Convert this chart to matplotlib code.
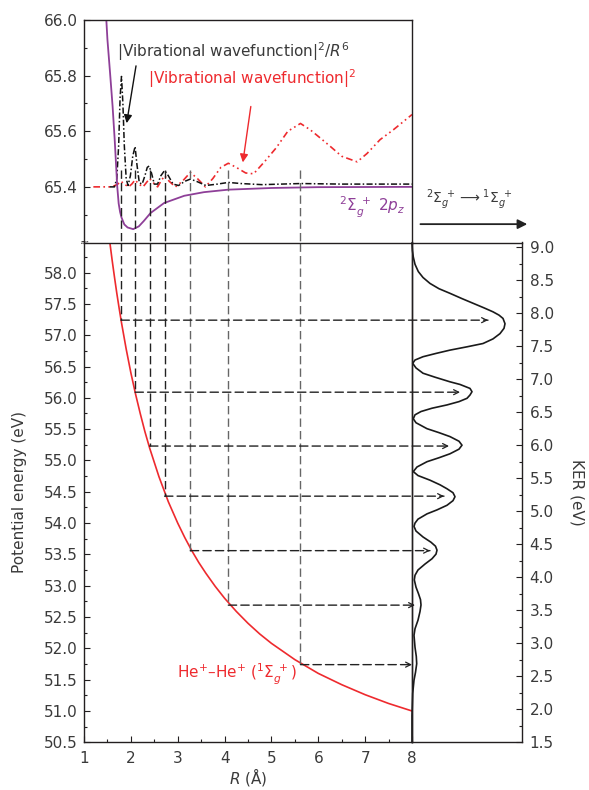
import matplotlib
matplotlib.use('Agg')
import matplotlib.pyplot as plt
import matplotlib.transforms as mtransforms
from matplotlib.ticker import MultipleLocator, FixedLocator, FormatStrFormatter

plt.rcParams['font.family'] = 'DejaVu Sans'
plt.rcParams['mathtext.fontset'] = 'dejavusans'

## data
# He+ - He+ Coulomb curve (bottom panel)
R_coul = [1.55, 1.6, 1.65, 1.7, 1.75, 1.8, 1.9, 2.0, 2.1, 2.2, 2.3, 2.4, 2.6, 2.8, 3.0, 3.15, 3.3, 3.45, 3.6, 3.8,
          4.0, 4.25, 4.5, 4.75, 5.0, 5.5, 6.0, 6.5, 7.0, 7.5, 8.0]
E_coul = [58.49, 58.20, 57.93, 57.67, 57.43, 57.20, 56.78, 56.40, 56.06, 55.75, 55.46, 55.20, 54.74, 54.34, 54.00,
          53.77, 53.56, 53.37, 53.20, 52.99, 52.80, 52.59, 52.40, 52.23, 52.08, 51.82, 51.60, 51.42, 51.26, 51.12,
          51.00]

# 2Sigma_g+ 2p_z potential (top panel)
R_pot = [1.45, 1.50, 1.556, 1.61, 1.655, 1.71, 1.74, 1.77, 1.80, 1.86, 1.93, 2.05, 2.17, 2.28, 2.42, 2.71, 3.14,
         3.56, 4.08, 5.0, 6.0, 8.0]
E_pot = [66.08, 65.93, 65.81, 65.69, 65.57, 65.40, 65.34, 65.31, 65.29, 65.265, 65.254, 65.248, 65.258, 65.278,
         65.306, 65.342, 65.368, 65.381, 65.39, 65.396, 65.399, 65.40]

# |wavefunction|^2 / R^6 (black)
R_wfr6 = [1.55, 1.65, 1.70, 1.74, 1.77, 1.80, 1.83, 1.86, 1.90, 1.94, 1.99, 2.04, 2.09, 2.13, 2.18, 2.24, 2.30, 2.35,
          2.39, 2.44, 2.50, 2.57, 2.64, 2.72, 2.80, 2.90, 3.02, 3.15, 3.27, 3.40, 3.60, 3.85, 4.08, 4.35, 4.8, 5.62,
          6.5, 8.0]
E_wfr6 = [65.40, 65.40, 65.43, 65.55, 65.72, 65.797, 65.70, 65.55, 65.43, 65.405, 65.44, 65.51, 65.545, 65.48,
          65.415, 65.41, 65.44, 65.47, 65.475, 65.45, 65.41, 65.41, 65.44, 65.459, 65.44, 65.41, 65.405, 65.42,
          65.428, 65.42, 65.405, 65.41, 65.416, 65.412, 65.408, 65.412, 65.41, 65.41]

# |wavefunction|^2 (red)
R_wf = [1.2, 1.6, 1.72, 1.79, 1.86, 1.95, 2.02, 2.09, 2.17, 2.26, 2.33, 2.40, 2.48, 2.57, 2.64, 2.72, 2.82, 2.95,
        3.10, 3.27, 3.42, 3.59, 3.75, 3.92, 4.08, 4.25, 4.45, 4.62, 4.85, 5.1, 5.35, 5.62, 5.83, 6.04, 6.26, 6.5,
        6.83, 7.04, 7.32, 7.6, 8.0]
E_wf = [65.40, 65.40, 65.41, 65.42, 65.41, 65.40, 65.41, 65.425, 65.41, 65.40, 65.415, 65.43, 65.415, 65.40, 65.42,
        65.44, 65.42, 65.40, 65.42, 65.452, 65.43, 65.40, 65.43, 65.47, 65.485, 65.47, 65.45, 65.447, 65.49, 65.54,
        65.60, 65.628, 65.605, 65.576, 65.545, 65.51, 65.49, 65.52, 65.57, 65.605, 65.66]

# classical turning points and their energies on the Coulomb curve
R_turn = [1.79, 2.09, 2.40, 2.72, 3.27, 4.08, 5.62]
E_turn = [57.24, 56.09, 55.23, 54.43, 53.56, 52.69, 51.74]
ker_tip = [76, 48, 37, 32, 18, 3, 0]

# KER spectrum (arb. units)
KER = [1.5, 1.9, 2.24, 2.44, 2.56, 2.69, 2.80, 2.94, 3.12, 3.22, 3.35, 3.48, 3.58, 3.66, 3.75, 3.85, 3.96,
       4.03, 4.11, 4.20, 4.28, 4.35, 4.41, 4.47, 4.53, 4.61, 4.70, 4.77,
       4.82, 4.88, 4.96, 5.02, 5.09, 5.16, 5.22, 5.28, 5.34, 5.40, 5.47, 5.54, 5.60,
       5.67, 5.75, 5.81, 5.87, 5.94, 6.00, 6.06, 6.13, 6.19, 6.25, 6.34, 6.40,
       6.46, 6.51, 6.56, 6.61, 6.66, 6.71, 6.76, 6.81, 6.86, 6.92, 6.96, 7.03, 7.09, 7.17, 7.24,
       7.29, 7.34, 7.39, 7.44, 7.49, 7.54, 7.61, 7.69, 7.77, 7.84, 7.92, 7.97, 8.02, 8.08, 8.15, 8.22, 8.30,
       8.37, 8.45, 8.54, 8.63, 8.74, 8.85, 8.95, 9.06]
KER_int = [0, 0, 0.7, 2, 3.5, 4.7, 4.3, 3, 2, 3, 6, 8, 9, 8.5, 6.5, 4, 2.3,
           3, 6, 13, 20, 24, 25, 23.5, 19, 11, 4, 2,
           3, 6, 15, 25, 35, 41, 43, 41, 35, 28, 18, 6, 1.3,
           5, 15, 27, 38, 47, 50, 47, 38, 27, 15, 4, 1.3,
           3, 9, 20, 35, 47, 55, 58, 60, 58, 48, 38, 23, 11, 4, 0.7,
           3, 11, 24, 38, 55, 71, 81, 88, 92, 93, 91, 87, 81, 72, 61, 50, 38,
           27, 18, 11, 6.3, 3, 1.3, 0.4, 0]

TXT = '#3a3a3a'
AX = '#231f20'
RED = '#ee2a2e'
PURPLE = '#8e3f98'
DASH = (0, (6, 3))

W, H = 589.0, 790.0
def box(l, t, r, b):
	return [l / W, 1 - b / H, (r - l) / W, (b - t) / H]

fig = plt.figure(figsize=(5.89, 7.90), dpi=100)
ax_top = fig.add_axes(box(84, 20, 412, 242.5))
ax = fig.add_axes(box(84, 242.5, 412, 742.3))
ax_ker = fig.add_axes(box(412, 242.5, 522, 742.3))
ax_ker.patch.set_visible(False)

for a in [ax_top, ax, ax_ker]:
	for s in a.spines.values():
		s.set_color(AX)
		s.set_linewidth(1.0)
	a.tick_params(which='both', direction='in', colors=AX, labelcolor=TXT, labelsize=11, width=0.8)
	a.tick_params(which='major', length=4)
	a.tick_params(which='minor', length=2.2)

## top panel
ax_top.set_xlim(1, 8)
ax_top.set_ylim(65.2, 66.0)
ax_top.spines['bottom'].set_visible(False)
ax_top.tick_params(axis='x', which='both', bottom=False, labelbottom=False)
ax_top.tick_params(axis='y', right=False, pad=4.5)
ax_top.yaxis.set_major_locator(FixedLocator([65.4, 65.6, 65.8, 66.0]))
ax_top.yaxis.set_minor_locator(FixedLocator([65.3, 65.5, 65.7, 65.9]))
ax_top.yaxis.set_major_formatter(FormatStrFormatter('%.1f'))

ax_top.plot(R_wf, E_wf, color=RED, lw=1.2, ls=(0, (4, 2, 1, 2, 1, 2)))
ax_top.plot(R_wfr6, E_wfr6, color='#111111', lw=1.1, ls=(0, (4, 1.5, 1, 1.5)))
ax_top.plot(R_pot, E_pot, color=PURPLE, lw=1.3)
for r in R_turn:
	c = '#666666' if r > 3 else '#222222'
	ax_top.plot([r, r], [65.46, 65.2], color=c, lw=1.0, ls=DASH)

ax_top.text(1.705, 65.866, r'|Vibrational wavefunction|$^{2}$/$R^{6}$', color=TXT, fontsize=11, va='baseline')
ax_top.text(2.374, 65.769, r'|Vibrational wavefunction|$^{2}$', color=RED, fontsize=11, va='baseline')
ax_top.annotate('', xy=(1.91, 65.629), xytext=(2.11, 65.835),
				arrowprops=dict(arrowstyle='-|>', color='#111111', lw=1.0, mutation_scale=12, shrinkA=0, shrinkB=0))
ax_top.annotate('', xy=(4.39, 65.488), xytext=(4.56, 65.689),
				arrowprops=dict(arrowstyle='-|>', color=RED, lw=1.0, mutation_scale=12, shrinkA=0, shrinkB=0))
ax_top.text(7.86, 65.312, r'$^{2}\Sigma_{g}^{\ +}\ 2p_{z}$', color=PURPLE, fontsize=11, ha='right', va='baseline')
ax_top.text(8.29, 65.342, r'$^{2}\Sigma_{g}^{\ +}\longrightarrow{}^{1}\Sigma_{g}^{\ +}$', color=TXT, fontsize=10,
			va='baseline', clip_on=False)
ax_top.annotate('', xy=(10.46, 65.266), xytext=(8.18, 65.266), annotation_clip=False,
				arrowprops=dict(arrowstyle='-|>', color='#222222', lw=1.3, mutation_scale=14, shrinkA=0, shrinkB=0))

## bottom panel
ax.set_xlim(1, 8)
ax.set_ylim(50.5, 58.48)
ax.tick_params(axis='y', right=False, pad=4.5)
ax.tick_params(axis='x', top=False, pad=6)
ax.xaxis.set_major_locator(MultipleLocator(1))
ax.xaxis.set_minor_locator(MultipleLocator(0.5))
ax.yaxis.set_major_locator(MultipleLocator(0.5))
ax.yaxis.set_minor_locator(MultipleLocator(0.25))
ax.yaxis.set_major_formatter(FormatStrFormatter('%.1f'))
ax.set_xlabel(r'$R$ (Å)', fontsize=11, color=TXT, labelpad=0)
ax.set_ylabel('Potential energy (eV)', fontsize=11, color=TXT, labelpad=12)

ax.plot(R_coul, E_coul, color=RED, lw=1.2)
blend = mtransforms.blended_transform_factory(ax_ker.transData, ax.transData)
for i, (r, e) in enumerate(zip(R_turn, E_turn)):
	c = '#666666' if r > 3 else '#222222'
	ax.plot([r, r], [58.48, e], color=c, lw=1.0, ls=DASH)
	ax.annotate('', xy=(ker_tip[i], e), xycoords=blend, xytext=(r, e), textcoords='data', annotation_clip=False,
				arrowprops=dict(arrowstyle='-', color='#222222', lw=1.0, ls=DASH, shrinkA=0, shrinkB=0))
	ax.annotate('', xy=(ker_tip[i], e), xycoords=blend, xytext=(ker_tip[i] - 3, e), textcoords=blend,
				annotation_clip=False,
				arrowprops=dict(arrowstyle='->', color='#222222', lw=0.9, mutation_scale=9, shrinkA=0, shrinkB=0))
ax.text(2.99, 51.52, r'He$^{+}$–He$^{+}$ ($^{1}\Sigma_{g}^{\ +}$)', color=RED, fontsize=11, va='baseline')

## KER panel
ax_ker.set_xlim(0, 110)
ax_ker.set_ylim(1.5, 9.07)
ax_ker.tick_params(axis='x', which='both', bottom=False, labelbottom=False)
ax_ker.yaxis.tick_right()
ax_ker.yaxis.set_label_position('right')
ax_ker.tick_params(axis='y', which='both', left=False, right=True, pad=5.5)
ax_ker.yaxis.set_major_locator(MultipleLocator(0.5))
ax_ker.yaxis.set_minor_locator(MultipleLocator(0.25))
ax_ker.yaxis.set_major_formatter(FormatStrFormatter('%.1f'))
ax_ker.set_ylabel('KER (eV)', fontsize=11, color=TXT, rotation=270, labelpad=22)
ax_ker.plot(KER_int, KER, color='#1a1a1a', lw=1.2, clip_on=False)

# axis break mark
fig.text(84 / W, 1 - 242.5 / H, '≈', ha='center', va='center', fontsize=8, color=AX)

fig.savefig('out.png', dpi=100)
